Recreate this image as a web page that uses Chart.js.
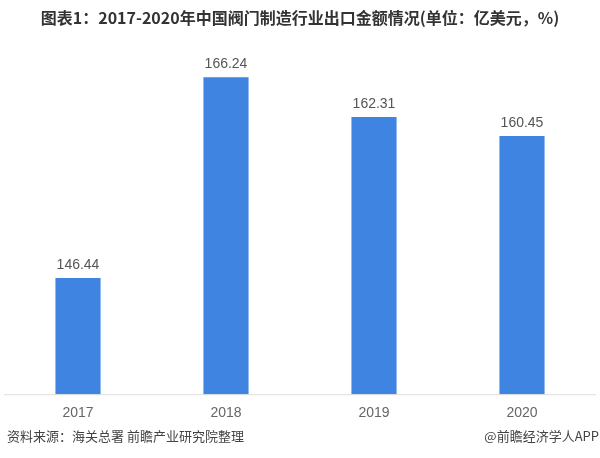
<!DOCTYPE html>
<html>
<head>
<meta charset="utf-8">
<script src="https://cdn.jsdelivr.net/npm/chart.js@4"></script>
<style>
  html, body { margin: 0; padding: 0; background: #fff; }
  #wrap { position: relative; width: 600px; height: 458px; }
  #title { position: absolute; top: 5px; left: 0; width: 600px; text-align: center;
    font: bold 16px "Noto Sans CJK SC", sans-serif; color: #333; }
  .src { position: absolute; top: 426px; font: 13px "Noto Sans CJK SC", sans-serif; color: #444; }
  #chartBox { position: absolute; left: 0; top: 0; width: 600px; height: 458px; }
</style>
</head>
<body>
<div id="wrap">
  <div id="chartBox"><canvas id="c"></canvas></div>
  <div id="title">图表1：2017-2020年中国阀门制造行业出口金额情况(单位：亿美元，%)</div>
  <div class="src" style="left:7px;">资料来源：海关总署 前瞻产业研究院整理</div>
  <div class="src" style="right:1px;">@前瞻经济学人APP</div>
</div>
<script>
var years = ['2017', '2018', '2019', '2020'];
var exportValues = [146.44, 166.24, 162.31, 160.45];

var valueLabels = {
    id: 'valueLabels',
    afterDatasetsDraw: function(chart){
        var ctx = chart.ctx;
        var meta = chart.getDatasetMeta(0);
        ctx.save();
        ctx.font = '14px "Liberation Sans", Arial, sans-serif';
        ctx.fillStyle = '#555';
        ctx.textAlign = 'center';
        ctx.textBaseline = 'bottom';
        meta.data.forEach(function(bar, i){
            ctx.fillText(exportValues[i].toFixed(2), bar.x, bar.y - 6);
        });
        ctx.restore();
    }
};

var baseLine = {
    id: 'baseLine',
    afterDraw: function(chart){
        var a = chart.chartArea, ctx = chart.ctx;
        ctx.save();
        ctx.strokeStyle = '#ddd';
        ctx.lineWidth = 1;
        ctx.beginPath();
        ctx.moveTo(a.left, a.bottom + 0.5);
        ctx.lineTo(a.right, a.bottom + 0.5);
        ctx.stroke();
        ctx.restore();
    }
};

new Chart(document.getElementById('c'), {
    type: 'bar',
    data: {
        labels: years,
        datasets: [{
            data: exportValues,
            backgroundColor: '#3f84e0',
            categoryPercentage: 1,
            barPercentage: 0.305
        }]
    },
    options: {
        responsive: true,
        maintainAspectRatio: false,
        animation: false,
        layout: { padding: { left: 4, right: 4, top: 39, bottom: 33 } },
        plugins: { legend: { display: false }, tooltip: { enabled: false } },
        scales: {
            x: {
                grid: { display: false },
                border: { display: false },
                ticks: { color: '#666', font: { size: 14, family: '"Liberation Sans", Arial, sans-serif' }, padding: 3 }
            },
            y: { display: false, min: 135, max: 170 }
        }
    },
    plugins: [valueLabels, baseLine]
});
</script>
</body>
</html>
